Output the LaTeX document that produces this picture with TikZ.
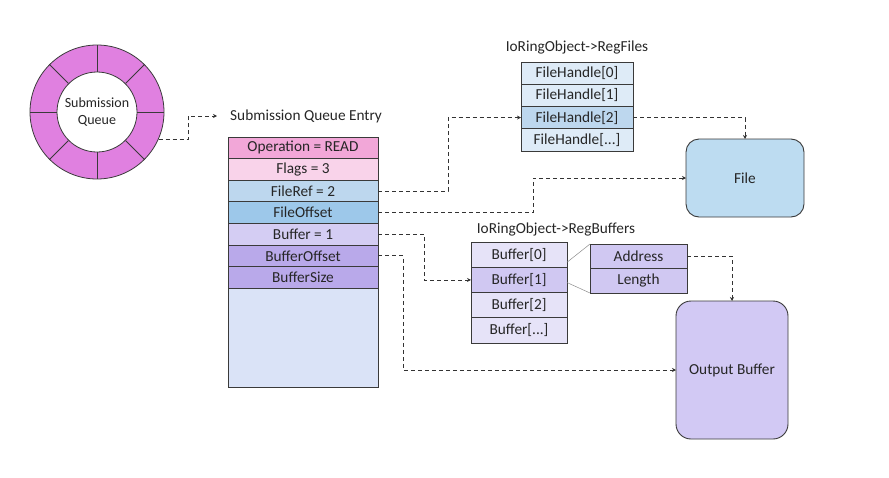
\documentclass[tikz,border=0pt]{standalone}
\usepackage{fontspec}
\setmainfont{Carlito}
\usepackage{xcolor}
\usepackage{tikz}
\usetikzlibrary{arrows.meta,calc,positioning}

\definecolor{ringpink}{HTML}{E080E0}
\definecolor{oppink}{HTML}{F2A7D8}
\definecolor{flagpink}{HTML}{F9D3EA}
\definecolor{refblue}{HTML}{BDD7EE}
\definecolor{offblue}{HTML}{9DC8EA}
\definecolor{paleblue}{HTML}{DEEBF7}
\definecolor{emptyblue}{HTML}{DAE3F7}
\definecolor{filebox}{HTML}{BDDCF1}
\definecolor{bufone}{HTML}{D4CDF3}
\definecolor{bufdark}{HTML}{B9A9EA}
\definecolor{buflight}{HTML}{E6E3F8}
\definecolor{bufmid}{HTML}{D0C8F2}
\definecolor{outbox}{HTML}{D2C9F4}
\definecolor{edge}{HTML}{3A3A3A}

\begin{document}
\begin{tikzpicture}[x=1pt, y=-1pt]
	\tikzstyle{every node} = [font=\fontsize{15.3}{18}\selectfont, text=black!85]
	\tikzstyle{cell} = [rectangle, draw=edge, line width=0.9pt, inner sep=0pt, outer sep=0pt]
	\tikzstyle{box} = [cell, rounded corners=13pt]
	\tikzstyle{link} = [draw=black!80, line width=0.8pt, dash pattern=on 4pt off 3pt, -{Stealth[length=4pt,width=4pt]}]
	\useasboundingbox (0,0) rectangle (889,477);
% submission queue ring
\node[circle, draw=edge, fill=ringpink, line width=0.8pt, minimum size=134pt, inner sep=0pt] (sq) at (97,112) {};
\node[circle, draw=edge, fill=white, line width=0.8pt, minimum size=80pt, inner sep=0pt, align=center,
      font=\fontsize{14}{17}\selectfont] (sqin) at (97,112) {Submission\\Queue};
	\foreach \a in {0,45,...,315}
	  \draw[edge, line width=0.8pt] (sqin.\a) -- (sq.\a);
% submission queue entry
\node[anchor=west, inner sep=0pt] (sqelbl) at (230,116) {Submission Queue Entry};
\node[cell, fill=oppink, minimum width=150pt, minimum height=21.6pt] (op) at (303,147.8) {Operation = READ};
\node[cell, fill=flagpink, minimum width=150pt, minimum height=21.6pt] (flags) at (303,169.4) {Flags = 3};
\node[cell, fill=refblue, minimum width=150pt, minimum height=21.6pt] (fref) at (303,191) {FileRef = 2};
\node[cell, fill=offblue, minimum width=150pt, minimum height=21.6pt] (foff) at (303,212.6) {FileOffset};
\node[cell, fill=bufone, minimum width=150pt, minimum height=21.6pt] (buf) at (303,234.2) {Buffer = 1};
\node[cell, fill=bufdark, minimum width=150pt, minimum height=21.6pt] (boff) at (303,255.8) {BufferOffset};
\node[cell, fill=bufdark, minimum width=150pt, minimum height=21.6pt] (bsize) at (303,277.4) {BufferSize};
\node[cell, fill=emptyblue, minimum width=150pt, minimum height=99pt] (rest) at (303,337.6) {};
% registered files
\node (rflbl) at (577,48) {IoRingObject->RegFiles};
\node[cell, fill=paleblue, minimum width=112pt, minimum height=22.25pt] (fh0) at (577,73.1) {FileHandle[0]};
\node[cell, fill=paleblue, minimum width=112pt, minimum height=22.25pt] (fh1) at (577,95.4) {FileHandle[1]};
\node[cell, fill=refblue, minimum width=112pt, minimum height=22.25pt] (fh2) at (577,117.6) {FileHandle[2]};
\node[cell, fill=paleblue, minimum width=112pt, minimum height=22.25pt] (fhn) at (577,139.9) {FileHandle[...]};
\node[box, fill=filebox, minimum width=118pt, minimum height=78pt] (file) at (745,178) {File};
% registered buffers
\node (rblbl) at (556,229) {IoRingObject->RegBuffers};
\node[cell, fill=buflight, minimum width=96pt, minimum height=25.25pt] (b0) at (519,254.6) {Buffer[0]};
\node[cell, fill=bufmid, minimum width=96pt, minimum height=25.25pt] (b1) at (519,279.9) {Buffer[1]};
\node[cell, fill=buflight, minimum width=96pt, minimum height=25.25pt] (b2) at (519,305.1) {Buffer[2]};
\node[cell, fill=buflight, minimum width=96pt, minimum height=25.25pt] (bn) at (519,330.4) {Buffer[...]};
\node[cell, fill=bufmid, minimum width=97pt, minimum height=24.5pt] (addr) at (638.5,256.25) {Address};
\node[cell, fill=bufmid, minimum width=97pt, minimum height=24.5pt] (len) at (638.5,280.75) {Length};
\node[box, fill=outbox, rounded corners=15pt, minimum width=112pt, minimum height=138pt] (out) at (732,370) {Output Buffer};
	\draw[black!45, line width=0.5pt] ([yshift=5pt]b1.north east) -- (addr.north west);
	\draw[black!45, line width=0.5pt] ([yshift=10pt]b1.south east) -- (len.south west);
% links
	\path[link] (sq.-24) -- ++(30,0) |- ([xshift=-13pt]sqelbl.west);
	\path[link] (fref.east) -- ++(70,0) |- (fh2.west);
	\path[link] (fh2.east) -| (file.north);
	\path[link] (foff.east) -- ++(155,0) |- (file.west);
	\path[link] (buf.east) -- ++(46,0) |- (b1.west);
	\path[link] (boff.east) -- ++(25,0) |- (out.west);
	\path[link] (addr.east) -| (out.north);
\end{tikzpicture}
\end{document}
